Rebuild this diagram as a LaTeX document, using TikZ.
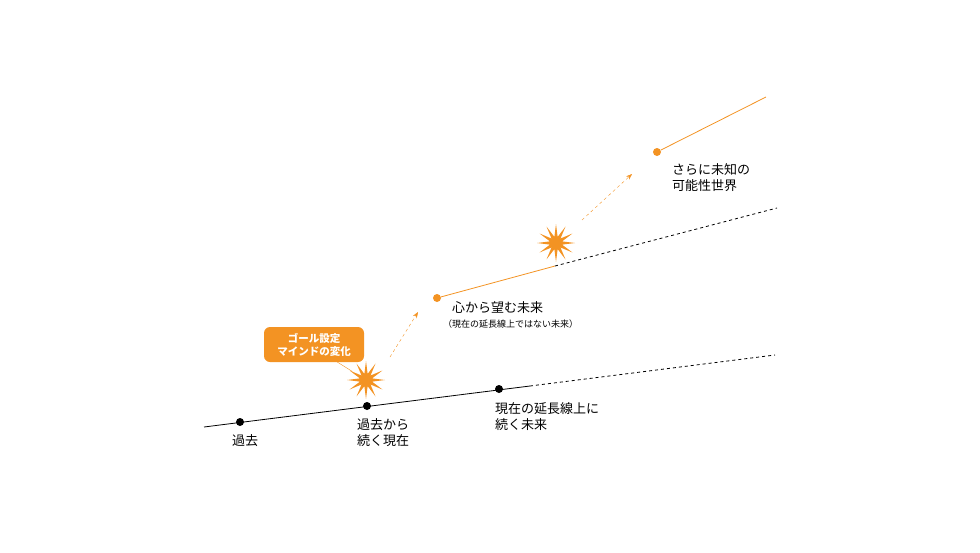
\documentclass[tikz,border=0pt]{standalone}
\usepackage{fontspec}
\setmainfont{Noto Sans CJK JP}
\usetikzlibrary{shapes.geometric,arrows.meta}
\definecolor{orng}{HTML}{F39323}
\tikzset{
  dot/.style={circle, fill=#1, inner sep=0pt, minimum size=8pt},
  burst/.style={star, star points=12, star point ratio=3, fill=orng, inner sep=0pt, minimum size=38pt},
  lbl/.style={anchor=north west, align=left, font=\fontsize{13}{16}\selectfont, inner sep=0pt},
  jump/.style={orng, dashed, -{Stealth[length=6pt]}}
}
\begin{document}
\begin{tikzpicture}[x=1pt,y=-1pt]
      \useasboundingbox (0,0) rectangle (980,552);
      % present line
      \coordinate (p0) at (204,427);
      \coordinate (p1) at (530,386);
      \coordinate (p2) at (775,355);
      \draw[thick] (p0) -- (p1);
      \draw[thick, dashed] (p1) -- (p2);
      \node[dot=black] (past) at (240,422) {};
      \node[dot=black] (now) at (367,406) {};
      \node[dot=black] (ext) at (499,389) {};
      \node[lbl] (pastl) at (232,434) {過去};
      \node[lbl] (nowl) at (357,418) {過去から\\続く現在};
      \node[lbl] (extl) at (495,402) {現在の延長線上に\\続く未来};

      % desired future
      \node[dot=orng] (wish) at (437,298) {};
      \coordinate (w1) at (555,266);
      \coordinate (w2) at (777,208);
      \draw[thick, orng] (wish) -- (w1);
      \draw[thick, dashed] (w1) -- (w2);
      \node[lbl] (wishl) at (452,301) {心から望む未来};
      \node[lbl, font=\fontsize{9}{10}\selectfont] (wishs) at (443,320) {（現在の延長線上ではない未来）};

      % unknown world
      \node[dot=orng] (unk) at (657,152) {};
      \coordinate (u1) at (766,97);
      \draw[thick, orng] (unk) -- (u1);
      \node[lbl] (unkl) at (672,163) {さらに未知の\\可能性世界};

      % shifts
      \node[burst] (b1) at (366,380) {};
      \node[burst] (b2) at (556,243) {};
      \coordinate (a1) at (390,357);
      \coordinate (a2) at (418,312);
      \coordinate (a3) at (582,220);
      \coordinate (a4) at (632,174);
      \draw[jump] (a1) -- (a2);
      \draw[jump] (a3) -- (a4);

      % callout
      \node[fill=orng, rounded corners=6pt, text=white, align=center, minimum width=100pt, minimum height=35pt,
            font=\fontsize{10.5}{13}\selectfont\bfseries] (goal) at (314,344.5) {ゴール設定\\マインドの変化};
      \draw[orng] (334,360) -- (b1);
\end{tikzpicture}
\end{document}
